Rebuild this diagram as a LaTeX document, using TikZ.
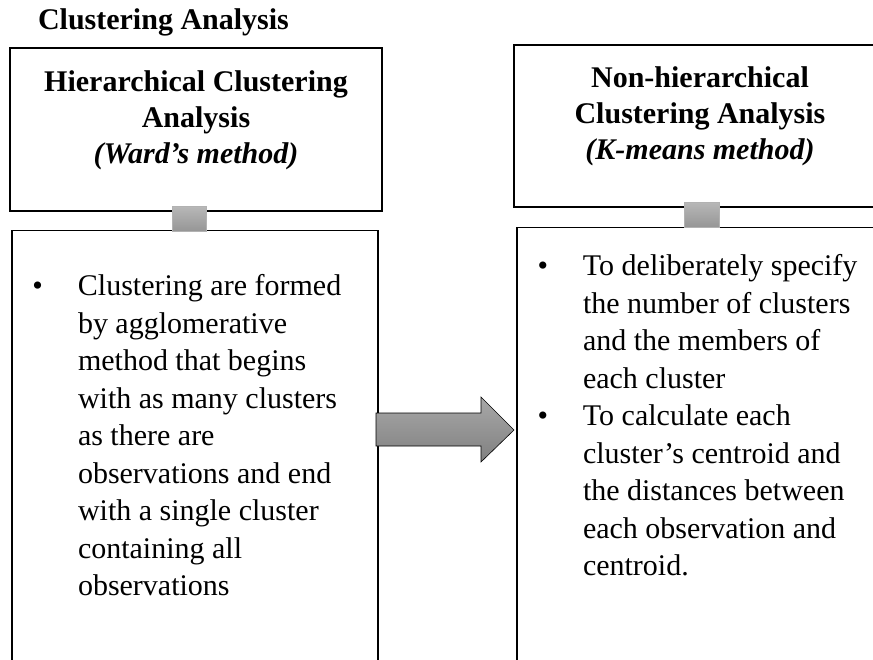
\documentclass[tikz,border=0pt]{standalone}
\usepackage{fontspec}
\setmainfont{Liberation Serif}
\definecolor{linktop}{RGB}{184,184,184}
\definecolor{linkbot}{RGB}{150,150,150}
\definecolor{arrtop}{RGB}{168,168,168}
\definecolor{arrbot}{RGB}{128,128,128}
\newcommand\listdot{\leavevmode\llap{\textbullet\hspace{35pt}}}
\begin{document}
\begin{tikzpicture}[x=1pt,y=-1pt,
  every node/.style={inner sep=0pt, outer sep=0pt},
  frame/.style={rectangle, draw=black, line width=1.8pt, fill=white},
  head/.style={font=\fontsize{30}{36}\selectfont\bfseries, align=center},
  body/.style={font=\fontsize{30}{37.5}\selectfont, align=left, anchor=north west},
  link/.style={rectangle, draw=gray!60, line width=0.6pt, top color=linktop, bottom color=linkbot},
  flowarrow/.style={draw=black, line width=0.6pt, top color=arrtop, bottom color=arrbot},
]
\useasboundingbox (0,0) rectangle (873,659);
\clip (0,0) rectangle (873,659);

% caption
\node[anchor=base west, font=\fontsize{30}{36}\selectfont\bfseries] (title) at (38,29) {Clustering Analysis};

% open-bottomed content panels
\node[frame, minimum width=366pt, minimum height=500pt, anchor=north] (hlist) at (195,230.5) {};
\node[frame, minimum width=366pt, minimum height=500pt, anchor=north] (nlist) at (700,227.5) {};

% heading panels
\node[frame, minimum width=372pt, minimum height=163pt] (hbox) at (196,129.5) {};
\node[frame, minimum width=372pt, minimum height=162pt] (nbox) at (700,126) {};

% small joints between heading and content
\node[link, minimum width=34pt, minimum height=25pt] (hlink) at (189,218.5) {};
\node[link, minimum width=35pt, minimum height=25pt] (nlink) at (701.5,214.5) {};

% block arrow from the left panel to the right panel
\draw[flowarrow] (376,413) -- (481,413) -- (481,397) -- (514,430)
  -- (481,462) -- (481,446) -- (376,446) -- cycle;

% headings
\node[head] (htext) at (196,120.4) {Hierarchical Clustering\\Analysis\\\textit{(Ward’s method)}};
\node[head] (ntext) at (700,116.5) {Non-hierarchical\\Clustering Analysis\\\textit{(K-means method)}};

% bullet texts
\node[body] (htxt) at (78,274.5) {\listdot Clustering are formed\\by agglomerative\\method that begins\\with as many clusters\\as there are\\observations and end\\with a single cluster\\containing all\\observations};
\node[body] (ntxt) at (583,254.5) {\listdot To deliberately specify\\the number of clusters\\and the members of\\each cluster\\\listdot To calculate each\\cluster’s centroid and\\the distances between\\each observation and\\centroid.};
\end{tikzpicture}
\end{document}
